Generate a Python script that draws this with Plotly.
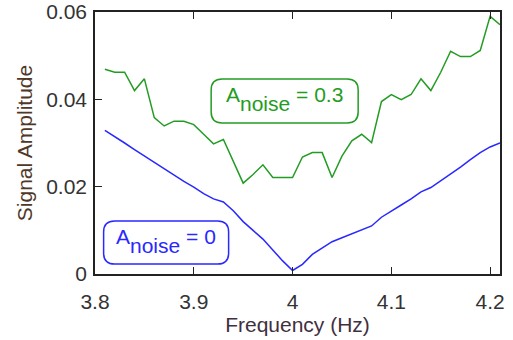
import plotly.graph_objects as go

freq = [round(3.81 + 0.01 * i, 2) for i in range(41)]

amp_noise0 = [0.0329, 0.0315, 0.0300, 0.0285, 0.0270, 0.0256, 0.0240, 0.0225, 0.0212, 0.0199,
              0.0184, 0.0172, 0.0165, 0.0145, 0.0120, 0.0100, 0.0080, 0.0055, 0.0030, 0.0008,
              0.0022, 0.0045, 0.0060, 0.0074, 0.0083, 0.0092, 0.0100, 0.0110, 0.0130, 0.0145,
              0.0158, 0.0172, 0.0188, 0.0198, 0.0213, 0.0230, 0.0245, 0.0262, 0.0278, 0.0291,
              0.0300]

amp_noise03 = [0.0469, 0.0462, 0.0462, 0.0420, 0.0447, 0.0358, 0.0339, 0.0350, 0.0350, 0.0342,
               0.0320, 0.0298, 0.0308, 0.0258, 0.0208, 0.0228, 0.0250, 0.0221, 0.0221, 0.0221,
               0.0268, 0.0278, 0.0278, 0.0221, 0.0270, 0.0305, 0.0320, 0.0301, 0.0395, 0.0411,
               0.0399, 0.0411, 0.0447, 0.0420, 0.0462, 0.0510, 0.0498, 0.0498, 0.0512, 0.0590,
               0.0571]

xtick_vals = [3.8, 3.9, 4.0, 4.1, 4.2]
xtick_text = ["3.8", "3.9", "4", "4.1", "4.2"]
ytick_vals = [0, 0.02, 0.04, 0.06]
ytick_text = ["0", "0.02", "0.04", "0.06"]

labels = ["A<span style='baseline-shift:-0.42em'>noise</span> = 0.3",
          "A<span style='baseline-shift:-0.42em'>noise</span> = 0"]
label_pos = [(3.992, 0.0396), (3.872, 0.0072)]
box_size = [(147, 44), (125, 43)]

GREEN = "#249c24"
BLUE = "#2828ff"
FONT = "Liberation Sans, Arial, sans-serif"

fig = go.Figure()
fig.add_trace(go.Scatter(x=freq, y=amp_noise03, mode="lines",
                         line=dict(color=GREEN, width=1.5), showlegend=False))
fig.add_trace(go.Scatter(x=freq, y=amp_noise0, mode="lines",
                         line=dict(color=BLUE, width=1.5), showlegend=False))


def rounded_path(w, h, r):
    a, b = w / 2, h / 2
    return (f"M {-a + r},{-b} L {a - r},{-b} Q {a},{-b} {a},{-b + r} "
            f"L {a},{b - r} Q {a},{b} {a - r},{b} L {-a + r},{b} "
            f"Q {-a},{b} {-a},{b - r} L {-a},{-b + r} Q {-a},{-b} {-a + r},{-b} Z")


for text, (x, y), (w, h), col in zip(labels, label_pos, box_size, [GREEN, BLUE]):
    fig.add_shape(type="path", xref="x", yref="y", xsizemode="pixel", ysizemode="pixel",
                  xanchor=x, yanchor=y, path=rounded_path(w, h, 11),
                  line=dict(color=col, width=1.5), fillcolor="white", layer="above")
    fig.add_annotation(x=x, y=y, xref="x", yref="y", text=text, showarrow=False,
                       font=dict(family=FONT, size=21, color=col), yshift=2)

fig.update_layout(
    width=513, height=340,
    margin=dict(l=95, r=13, t=12, b=66),
    paper_bgcolor="white", plot_bgcolor="white",
    font=dict(family=FONT, size=21, color="#333"),
    xaxis=dict(range=[3.8, 4.21], tickvals=xtick_vals, ticktext=xtick_text,
               ticks="inside", ticklen=7, tickwidth=1.3, tickcolor="#222",
               showline=True, linecolor="#222", linewidth=1.5, mirror="ticks",
               showgrid=False, zeroline=False, automargin=False,
               ticklabelstandoff=8,
               title=dict(text="Frequency (Hz)", font=dict(size=21, color="#3f3040"), standoff=4)),
    yaxis=dict(range=[0, 0.06], tickvals=ytick_vals, ticktext=ytick_text,
               ticks="inside", ticklen=7, tickwidth=1.3, tickcolor="#222",
               showline=True, linecolor="#222", linewidth=1.5, mirror=True,
               showgrid=False, zeroline=False, automargin=False,
               ticklabelstandoff=2,
               title=dict(text="Signal Amplitude", font=dict(size=21, color="#4f3828"), standoff=8)),
)

fig.write_html("out.html", config={"displayModeBar": False},
               post_script="document.body.style.margin='0';document.body.style.overflow='hidden';")
